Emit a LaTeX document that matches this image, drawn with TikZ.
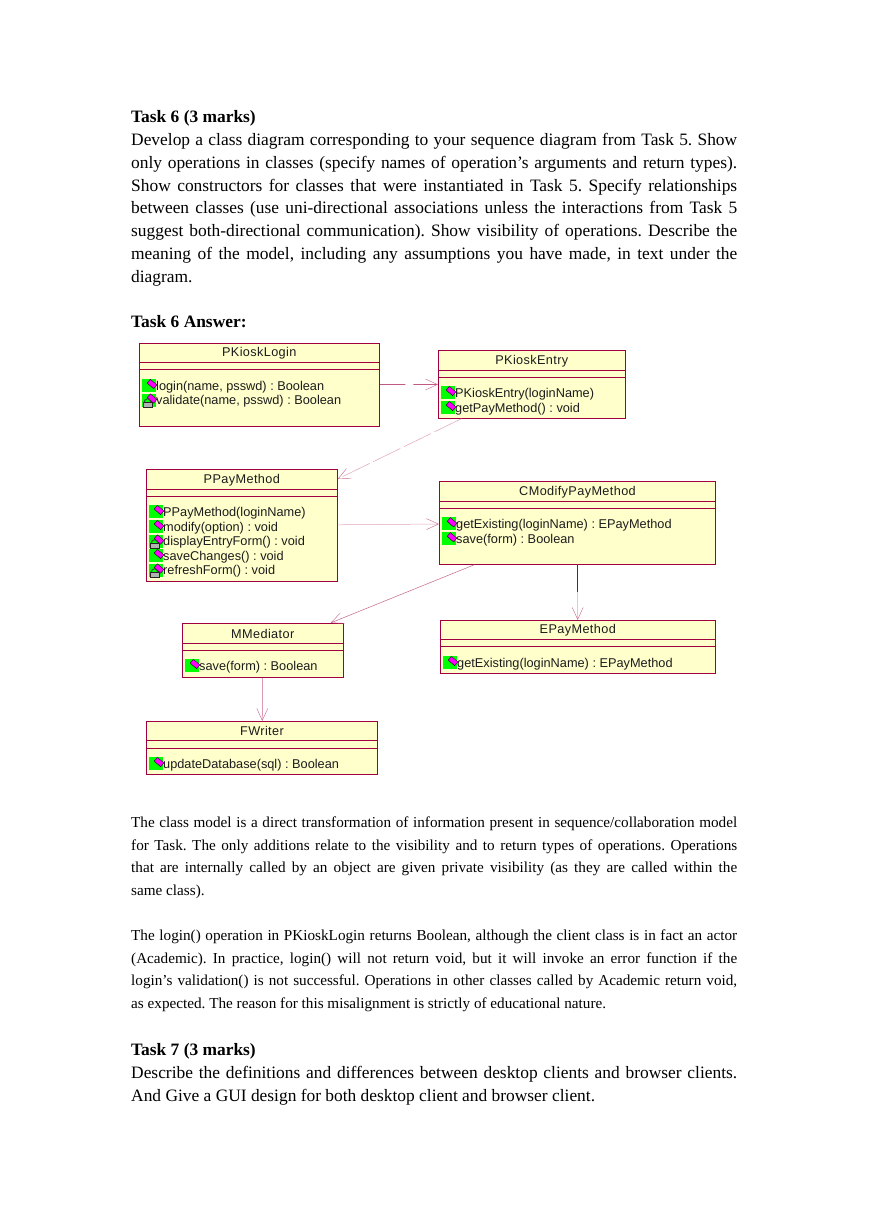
\documentclass[tikz,border=0pt]{standalone}
\usepackage{fontspec}
\setmainfont{Liberation Serif}
\newfontfamily\umlfont{Liberation Sans}
\newfontfamily\umltitlefont[LetterSpace=3]{Liberation Sans}
\usetikzlibrary{arrows.meta,positioning,calc}
\definecolor{classedge}{HTML}{A00040}
\definecolor{classfill}{HTML}{FFFFCC}
\definecolor{opgreen}{HTML}{00FF00}
\definecolor{opgem}{HTML}{FF00FF}
\definecolor{linkmid}{HTML}{C8648C}
\definecolor{linkpale}{HTML}{E0A4BC}
\definecolor{umltext}{HTML}{1C1C1C}
\tolerance=9999
\frenchspacing
\tikzset{
  classbox/.style={draw=classedge, fill=classfill, line width=0.8pt, inner sep=0pt},
  classrule/.style={draw=classedge, line width=0.8pt},
  classtitle/.style={font=\umltitlefont\fontsize{12.7}{14}\selectfont, text=umltext, inner sep=0pt},
  optext/.style={anchor=west, font=\umlfont\fontsize{12.75}{14}\selectfont, text=umltext, inner sep=0pt},
  bodytext/.style={anchor=north west, text width=606pt, inner sep=0pt, align=justify, font=\fontsize{17.4}{22.8}\selectfont},
  smalltext/.style={anchor=north west, text width=606pt, inner sep=0pt, align=justify, font=\fontsize{15.2}{22.7}\selectfont},
  headtext/.style={anchor=west, inner sep=0pt, font=\fontsize{17.4}{20}\selectfont\bfseries},
  assoc/.style={draw=#1, line width=0.5pt, -{Straight Barb[length=12pt, width=11pt, color=linkmid, line width=0.4pt]}},
  opicon/.pic={
    \fill[opgreen] (0,0) rectangle (14,13);
    \filldraw[opgem, draw=black, line width=0.3pt, rotate around={-40:(10,5)}] (5.7,2.5) rectangle (14.3,7.5);
  },
  lockicon/.pic={
    \draw[black!75, line width=0.9pt] (2.3,8.5) arc[start angle=180, end angle=360, radius=3.2];
    \filldraw[black!30, draw=black!85, line width=0.6pt] (1,8.5) rectangle (10,13.3);
  }
}
\begin{document}
\begin{tikzpicture}[x=1pt, y=-1pt]
  \useasboundingbox (0,0) rectangle (869,1228);
  \fill[white] (0,0) rectangle (869,1228);
  % page text above the diagram
  \node[headtext] (task6head) at (131,118) {Task 6 (3 marks)};
  \node[bodytext] (task6body) at (131,133) {Develop a class diagram corresponding to your sequence diagram from Task 5. Show\linebreak
    only operations in classes (specify names of operation’s arguments and return types).\linebreak
    Show constructors for classes that were instantiated in Task 5. Specify relationships\linebreak
    between classes (use uni-directional associations unless the interactions from Task 5\linebreak
    suggest both-directional communication). Show visibility of operations. Describe the\linebreak
    meaning of the model, including any assumptions you have made, in text under the\linebreak
    diagram.};
  \node[headtext] (answerhead) at (131,321.5) {Task 6 Answer:};
  % classes
  \node[classbox, minimum width=239.5pt, minimum height=83.5pt] (PKioskLogin) at (259.25,384.75) {};
  \node[classbox, minimum width=187pt, minimum height=68pt] (PKioskEntry) at (531.8,384.3) {};
  \node[classbox, minimum width=191pt, minimum height=111.6pt] (PPayMethod) at (241.8,525.5) {};
  \node[classbox, minimum width=276.4pt, minimum height=82.6pt] (CModifyPayMethod) at (577.5,523) {};
  \node[classbox, minimum width=161.5pt, minimum height=54.2pt] (MMediator) at (262.75,650.4) {};
  \node[classbox, minimum width=275.5pt, minimum height=53.2pt] (EPayMethod) at (577.75,646.9) {};
  \node[classbox, minimum width=231pt, minimum height=53.2pt] (FWriter) at (262,747.9) {};
  \foreach \nm/\ya/\yb/\ty in {PKioskLogin/362.3/369.3/353, PKioskEntry/370.3/377.3/361,
      PPayMethod/489.3/496.3/480, CModifyPayMethod/501.7/508.7/492.5, MMediator/643.3/650.3/634,
      EPayMethod/639.7/646.3/630.5, FWriter/740.7/748/731}
    {\draw[classrule] (\nm.west |- 0,\ya) -- (\nm.east |- 0,\ya);
     \draw[classrule] (\nm.west |- 0,\yb) -- (\nm.east |- 0,\yb);
     \node[classtitle] (\nm-title) at (\nm.center |- 0,\ty) {\nm};}
  % operations
  \foreach \x/\y/\op [count=\n] in {142/379/{login(name, psswd) : Boolean}, 142/393.5/{validate(name, psswd) : Boolean},
      441/386/{PKioskEntry(loginName)}, 441/401/{getPayMethod() : void},
      149/505/{PPayMethod(loginName)}, 149/520/{modify(option) : void}, 149/534.5/{displayEntryForm() : void},
      149/549/{saveChanges() : void}, 149/563.5/{refreshForm() : void},
      442/517.3/{getExisting(loginName) : EPayMethod}, 442/532.3/{save(form) : Boolean},
      185/659/{save(form) : Boolean}, 443/656/{getExisting(loginName) : EPayMethod},
      149/757/{updateDatabase(sql) : Boolean}}
    {\pic at (\x,\y) {opicon};
     \node[optext] (op\n) at ($(\x,\y)+(14,8)$) {\op};}
  \foreach \x/\y in {142/393.5, 149/534.5, 149/563.5}
    {\pic at (\x,\y) {lockicon};}
  % associations
  \draw[assoc=classedge, dash pattern=on 26pt off 8pt on 40pt] (PKioskLogin) -- (PKioskEntry);
  \draw[assoc=linkpale, dash pattern=on 30pt off 4pt] (PKioskEntry) -- (PPayMethod);
  \draw[assoc=linkpale] (PPayMethod) -- (CModifyPayMethod);
  \draw[assoc=linkmid] (CModifyPayMethod) -- (MMediator);
  \draw[assoc=linkpale] (CModifyPayMethod) -- (EPayMethod);
  \coordinate (epaybend) at (577.5,592);
  \draw[classedge, line width=0.7pt] (CModifyPayMethod.south) -- (epaybend);
  \draw[assoc=linkmid] (MMediator) -- (FWriter);
  % page text below the diagram
  \node[smalltext] (modelnote) at (131,816.5) {The class model is a direct transformation of information present in sequence/collaboration model\linebreak
    for Task. The only additions relate to the visibility and to return types of operations. Operations\linebreak
    that are internally called by an object are given private visibility (as they are called within the\linebreak
    same class).};
  \node[smalltext] (loginnote) at (131,929.5) {The login() operation in PKioskLogin returns Boolean, although the client class is in fact an actor\linebreak
    (Academic). In practice, login() will not return void, but it will invoke an error function if the\linebreak
    login’s validation() is not successful. Operations in other classes called by Academic return void,\linebreak
    as expected. The reason for this misalignment is strictly of educational nature.};
  \node[headtext] (task7head) at (131,1051.5) {Task 7 (3 marks)};
  \node[bodytext] (task7body) at (131,1066) {Describe the definitions and differences between desktop clients and browser clients.\linebreak
    And Give a GUI design for both desktop client and browser client.};
\end{tikzpicture}
\end{document}
